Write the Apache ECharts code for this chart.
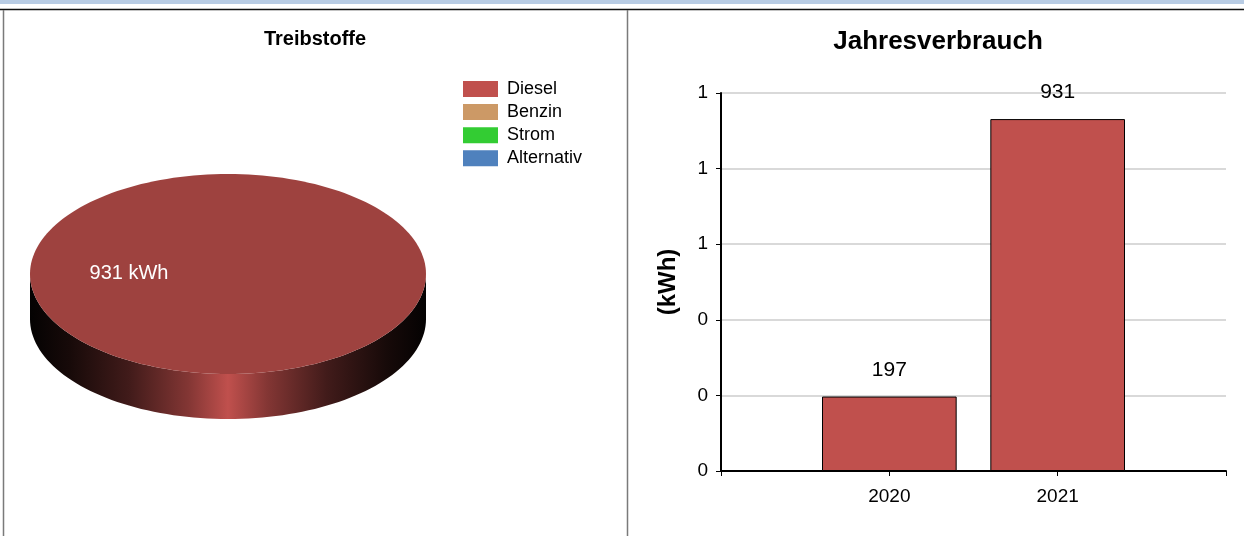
<!DOCTYPE html>
<html>
<head>
<meta charset="utf-8">
<script src="https://cdn.jsdelivr.net/npm/echarts@6/dist/echarts.min.js"></script>
<style>
  html, body { margin: 0; padding: 0; background: #fff; }
  #chart { width: 1244px; height: 536px; }
</style>
</head>
<body>
<div id="chart"></div>
<script>
// ---- data ----
const pieTitle = 'Treibstoffe';
const fuelNames = ['Diesel', 'Benzin', 'Strom', 'Alternativ'];
const fuelValues = [931, 0, 0, 0];
const fuelUnit = 'kWh';

const barTitle = 'Jahresverbrauch';
const years = ['2020', '2021'];
const yearValues = [197, 931];
const yAxisName = '(kWh)';
const yMin = 0, yMax = 1000, yInterval = 200;

// ---- styles ----
const fuelColors = ['#c0504d', '#cc9966', '#33cc33', '#4f81bd'];
const FONT = '"Liberation Sans", Arial, Helvetica, sans-serif';
const PIE = { cx: 228, cy: 274, rx: 198, ry: 100, depth: 45 };

function scaleColor(hex, f) {
  const n = parseInt(hex.slice(1), 16);
  const r = Math.round(((n >> 16) & 255) * f);
  const g = Math.round(((n >> 8) & 255) * f);
  const b = Math.round((n & 255) * f);
  return 'rgb(' + r + ',' + g + ',' + b + ')';
}

function arcPoints(a0, a1, dy) {
  const pts = [];
  const steps = Math.max(2, Math.ceil((a1 - a0) / (Math.PI * 2) * 180));
  for (let i = 0; i <= steps; i++) {
    const a = a0 + (a1 - a0) * i / steps;
    pts.push([PIE.cx + PIE.rx * Math.cos(a), PIE.cy + dy + PIE.ry * Math.sin(a)]);
  }
  return pts;
}

function makePieRender(idx) {
  return function (params, api) {
    const total = fuelValues.reduce((s, v) => s + v, 0);
    const v = api.value(0);
    if (!v || !total) return { type: 'group', children: [] };
    let before = 0;
    for (let k = 0; k < idx; k++) before += fuelValues[k];
    const a0 = before / total * Math.PI * 2;
    const a1 = (before + v) / total * Math.PI * 2;
    const color = fuelColors[idx];
    const children = [];
    const lo = Math.max(a0, 0), hi = Math.min(a1, Math.PI);
    if (hi > lo) {
      const top = arcPoints(lo, hi, 0);
      const bottom = arcPoints(lo, hi, PIE.depth).reverse();
      children.push({
        type: 'polygon',
        shape: { points: top.concat(bottom) },
        style: {
          fill: {
            type: 'linear', global: true,
            x: PIE.cx - PIE.rx, y: 0, x2: PIE.cx + PIE.rx, y2: 0,
            colorStops: [
              { offset: 0, color: scaleColor(color, 0.02) },
              { offset: 0.1, color: scaleColor(color, 0.12) },
              { offset: 0.25, color: scaleColor(color, 0.34) },
              { offset: 0.4, color: scaleColor(color, 0.68) },
              { offset: 0.5, color: color },
              { offset: 0.6, color: scaleColor(color, 0.68) },
              { offset: 0.75, color: scaleColor(color, 0.34) },
              { offset: 0.9, color: scaleColor(color, 0.12) },
              { offset: 1, color: scaleColor(color, 0.02) }
            ]
          }
        }
      });
    }
    let topPts = arcPoints(a0, a1, 0);
    if (a1 - a0 < Math.PI * 2 - 1e-9) topPts = [[PIE.cx, PIE.cy]].concat(topPts);
    children.push({
      type: 'polygon',
      shape: { points: topPts },
      style: { fill: scaleColor(color, 0.823) }
    });
    const mid = (a0 + a1) / 2;
    children.push({
      type: 'text',
      x: PIE.cx + PIE.rx * 0.5 * Math.cos(mid),
      y: PIE.cy + PIE.ry * 0.5 * Math.sin(mid) - 1,
      style: {
        text: v + ' ' + fuelUnit,
        fill: '#ffffff',
        font: '20px ' + FONT,
        textAlign: 'center', textVerticalAlign: 'middle',
        align: 'center', verticalAlign: 'middle'
      }
    });
    return { type: 'group', children: children };
  };
}

const pieSeries = fuelNames.map((name, i) => ({
  type: 'custom',
  name: name,
  coordinateSystem: 'none',
  silent: true,
  animation: false,
  itemStyle: { color: fuelColors[i] },
  data: [[fuelValues[i]]],
  renderItem: makePieRender(i)
}));

const xCats = [''].concat(years, ['']);
const barData = ['-'].concat(yearValues, ['-']);

const chart = echarts.init(document.getElementById('chart'), null, { renderer: 'canvas' });
chart.setOption({
  animation: false,
  backgroundColor: '#ffffff',
  textStyle: { fontFamily: FONT },
  graphic: [
    { type: 'rect', shape: { x: 0, y: 0, width: 1244, height: 4 }, style: { fill: '#b8cce4' }, silent: true },
    { type: 'line', shape: { x1: 0, y1: 9.5, x2: 1244, y2: 9.5 }, style: { stroke: '#111', lineWidth: 1.3 }, silent: true },
    { type: 'line', shape: { x1: 3.5, y1: 10, x2: 3.5, y2: 536 }, style: { stroke: '#7a7a7a', lineWidth: 1.5 }, silent: true },
    { type: 'line', shape: { x1: 627.5, y1: 10, x2: 627.5, y2: 536 }, style: { stroke: '#7a7a7a', lineWidth: 1.5 }, silent: true },
    { type: 'text', x: 315, y: 39, silent: true,
      style: { text: pieTitle, fill: '#000', font: 'bold 20px ' + FONT, textAlign: 'center', textVerticalAlign: 'middle', align: 'center', verticalAlign: 'middle' } },
    { type: 'text', x: 938, y: 42, silent: true,
      style: { text: barTitle, fill: '#000', font: 'bold 26px ' + FONT, textAlign: 'center', textVerticalAlign: 'middle', align: 'center', verticalAlign: 'middle' } }
  ],
  legend: {
    data: fuelNames,
    orient: 'vertical',
    left: 463,
    top: 80,
    padding: 0,
    itemWidth: 35,
    itemHeight: 16,
    itemGap: 5.1,
    icon: 'rect',
    selectedMode: false,
    textStyle: { color: '#000', fontSize: 18, fontFamily: FONT, padding: [0, 0, 0, 4] }
  },
  grid: {
    left: 721, right: 18, top: 93, bottom: 65,
    containLabel: false,
    outerBoundsMode: 'none'
  },
  xAxis: {
    type: 'category',
    data: xCats,
    boundaryGap: false,
    axisLine: { show: true, lineStyle: { color: '#000', width: 2 } },
    axisTick: { show: true, interval: 0, length: 5, lineStyle: { color: '#000', width: 1 } },
    axisLabel: { interval: 0, color: '#000', fontSize: 19, margin: 16, fontFamily: FONT },
    splitLine: { show: false }
  },
  yAxis: {
    type: 'value',
    min: yMin, max: yMax, interval: yInterval,
    name: yAxisName,
    nameLocation: 'middle',
    nameGap: 41,
    nameTextStyle: { color: '#000', fontSize: 24, fontWeight: 'bold', fontFamily: FONT },
    axisLine: { show: true, lineStyle: { color: '#000', width: 2 } },
    axisTick: { show: true, length: 5, lineStyle: { color: '#000', width: 1 } },
    axisLabel: {
      color: '#000', fontSize: 19, margin: 13, fontFamily: FONT,
      formatter: v => String(Math.round(v / 1000))
    },
    splitLine: { show: true, lineStyle: { color: '#d9d9d9', width: 2 } }
  },
  series: pieSeries.concat([{
    type: 'bar',
    name: barTitle,
    data: barData,
    barWidth: '80%',
    itemStyle: { color: '#c0504d', borderColor: '#000', borderWidth: 1 },
    label: { show: true, position: 'top', distance: 16, color: '#000', fontSize: 21, fontFamily: FONT },
    silent: true
  }])
});
</script>
</body>
</html>
